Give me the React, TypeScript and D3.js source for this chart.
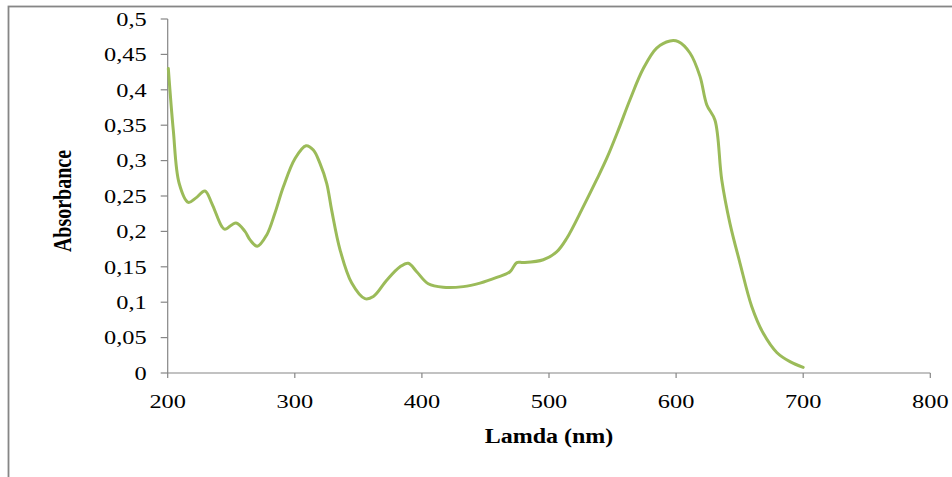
import React from "react";
import * as d3 from "d3";

// wavelength (nm) and absorbance
const lamda = [200.5, 204.4, 209, 216.2, 222, 229.3, 234.6, 242.5, 245, 253.7, 260.8, 264.8, 270.5, 277.9, 284.4, 291, 300.2, 308.8, 314.6, 319.8, 325.1, 329, 335.6, 344.8, 355.2, 361.8, 372.3, 382.8, 389.3, 395.9, 405, 416.8, 432.6, 445.7, 458.9, 469.3, 474.6, 479.8, 495.5, 506, 513.9, 527, 537.5, 545.4, 554.5, 563.7, 574.2, 584.7, 595.2, 601.7, 610.9, 618.8, 624.1, 630.6, 635.9, 642.4, 650.3, 659.5, 668.6, 679.2, 689.6, 700];
const absorbance = [0.430, 0.343, 0.268, 0.241, 0.247, 0.257, 0.240, 0.207, 0.203, 0.212, 0.200, 0.188, 0.179, 0.195, 0.226, 0.263, 0.303, 0.321, 0.315, 0.296, 0.268, 0.230, 0.174, 0.127, 0.105, 0.108, 0.131, 0.150, 0.155, 0.143, 0.126, 0.121, 0.122, 0.127, 0.135, 0.143, 0.156, 0.156, 0.160, 0.171, 0.190, 0.235, 0.273, 0.303, 0.343, 0.386, 0.430, 0.459, 0.469, 0.468, 0.452, 0.419, 0.379, 0.357, 0.273, 0.211, 0.155, 0.094, 0.056, 0.029, 0.016, 0.008];
const xTicks = [200, 300, 400, 500, 600, 700, 800];
const yTicks = [0, 0.05, 0.1, 0.15, 0.2, 0.25, 0.3, 0.35, 0.4, 0.45, 0.5];

const W = 952;
const H = 477;
const AXIS = "#868686";
const FONT = "'Liberation Serif', 'Times New Roman', serif";
const SX = 1.25; // the original picture is stretched sideways

export default function App() {
  const x = d3.scaleLinear().domain([200, 800]).range([167.7, 930.3]);
  const y = d3.scaleLinear().domain([0, 0.5]).range([373, 19]);
  const pts = lamda.map((l, i) => [l, absorbance[i]] as [number, number]);
  const line = d3
    .line<[number, number]>()
    .x((d) => x(d[0]))
    .y((d) => y(d[1]))
    .curve(d3.curveCatmullRom.alpha(0.5));
  const fmt = (v: number) => String(v).replace(".", ",");

  return (
    <svg width={W} height={H} style={{ position: "absolute", left: 0, top: 0, background: "#fff" }}>
      <rect x={8.5} y={6.5} width={980} height={520} fill="none" stroke={AXIS} strokeWidth={1.8} />
      <g stroke={AXIS} strokeWidth={1.2}>
        <line x1={x(200)} x2={x(200)} y1={y(0.5)} y2={y(0)} />
        <line x1={x(200)} x2={x(800)} y1={y(0)} y2={y(0)} />
        {yTicks.map((t) => (
          <line key={t} x1={x(200) - 7} x2={x(200)} y1={y(t)} y2={y(t)} />
        ))}
        {xTicks.map((t) => (
          <line key={t} x1={x(t)} x2={x(t)} y1={y(0)} y2={y(0) + 5} />
        ))}
      </g>
      <g fontFamily={FONT} fontSize={19.5} fill="#000">
        {yTicks.map((t) => (
          <text key={t} transform={`translate(${x(200) - 21},${y(t)}) scale(${SX},1)`} dy="0.35em" textAnchor="end">
            {fmt(t)}
          </text>
        ))}
        {xTicks.map((t) => (
          <text key={t} transform={`translate(${x(t)},${y(0) + 35}) scale(${SX},1)`} textAnchor="middle">
            {t}
          </text>
        ))}
      </g>
      <text
        transform={`translate(549,443) scale(1.2,1)`}
        textAnchor="middle"
        fontFamily={FONT}
        fontSize={20}
        fontWeight="bold"
      >
        Lamda (nm)
      </text>
      <text
        transform={`translate(62,201) scale(${SX},1) rotate(-90)`}
        dy="0.35em"
        textAnchor="middle"
        fontFamily={FONT}
        fontSize={20}
        fontWeight="bold"
      >
        Absorbance
      </text>
      <path d={line(pts) ?? undefined} fill="none" stroke="#9BBB59" strokeWidth={3} strokeLinejoin="round" strokeLinecap="round" />
    </svg>
  );
}
